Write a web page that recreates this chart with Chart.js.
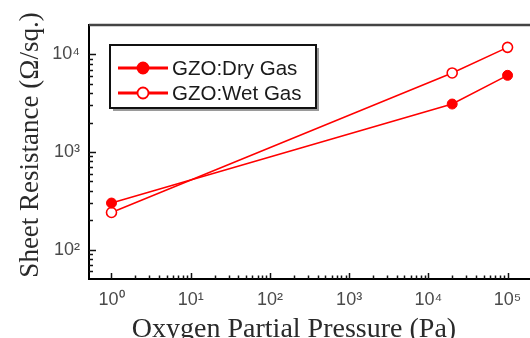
<!DOCTYPE html>
<html>
<head>
<meta charset="utf-8">
<script src="https://cdn.jsdelivr.net/npm/chart.js@4.4.1/dist/chart.umd.min.js"></script>
<style>
  html, body { margin: 0; padding: 0; background: #fff; overflow: hidden; }
  #wrap { position: absolute; left: 0; top: 0; width: 538px; height: 338px; }
</style>
</head>
<body>
<div id="wrap"><canvas id="chart" width="538" height="338"></canvas></div>
<script>
// data
const pressures = [1, 20000, 100000];
const dryGas = [300, 3100, 6100];
const wetGas = [240, 6450, 11800];

const seriesLabels = ['GZO:Dry Gas', 'GZO:Wet Gas'];
const xMajorTicks = [1, 10, 100, 1000, 10000, 100000];
const yMajorTicks = [100, 1000, 10000];
const minorSteps = [2, 3, 4, 5, 6, 7, 8, 9];
const supers = ['⁰', '¹', '²', '³', '⁴', '⁵'];

const xTitle = 'Oxygen Partial Pressure (Pa)';
const yTitle = 'Sheet Resistance (Ω/sq.)';

function minorsFor(decadeStarts, lo, hi) {
    const out = [];
    decadeStarts.forEach(d => minorSteps.forEach(s => {
        const v = d * s;
        if (v > lo && v < hi) out.push(v);
    }));
    return out;
}
const xMinorTicks = minorsFor([1, 10, 100, 1000, 10000], 1, 100000);
const yMinorTicks = minorsFor([10, 100, 1000], 55, 10000);

function powLabel(v) {
    const e = Math.round(Math.log10(v));
    return '10' + supers[e];
}

// inward ticks, frame, axis titles and legend
const decorPlugin = {
    id: 'decor',
    afterDraw(chart) {
        const ctx = chart.ctx;
        const area = chart.chartArea;
        const xs = chart.scales.x, ys = chart.scales.y;
        ctx.save();

        // top frame line
        ctx.strokeStyle = '#444';
        ctx.lineWidth = 2.5;
        ctx.beginPath();
        ctx.moveTo(area.left, area.top);
        ctx.lineTo(chart.width, area.top);
        ctx.stroke();

        // ticks pointing inward
        ctx.strokeStyle = '#111';
        ctx.lineWidth = 1.5;
        const xTick = (v, len) => {
            const p = Math.round(xs.getPixelForValue(v)) + 0.5;
            ctx.beginPath();
            ctx.moveTo(p, area.bottom);
            ctx.lineTo(p, area.bottom - len);
            ctx.stroke();
        };
        const yTick = (v, len) => {
            const p = Math.round(ys.getPixelForValue(v)) + 0.5;
            ctx.beginPath();
            ctx.moveTo(area.left, p);
            ctx.lineTo(area.left + len, p);
            ctx.stroke();
        };
        xMajorTicks.forEach(v => xTick(v, 6));
        xMinorTicks.forEach(v => xTick(v, 3.5));
        yMajorTicks.forEach(v => yTick(v, 7));
        yMinorTicks.forEach(v => yTick(v, 4));

        // axis titles
        ctx.fillStyle = '#2a2a2a';
        ctx.textAlign = 'center';
        ctx.textBaseline = 'alphabetic';
        ctx.font = '28px "Liberation Serif", "Times New Roman", serif';
        ctx.fillText(xTitle, 294, 337);
        ctx.save();
        ctx.translate(38, 145);
        ctx.rotate(-Math.PI / 2);
        ctx.font = '27px "Liberation Serif", "Times New Roman", serif';
        ctx.fillText(yTitle, 0, 0);
        ctx.restore();

        // legend box
        const bx = 110, by = 45, bw = 206, bh = 63;
        ctx.fillStyle = '#9a9a9a';
        ctx.fillRect(bx + 3, by + 3, bw, bh);
        ctx.fillStyle = '#fff';
        ctx.fillRect(bx, by, bw, bh);
        ctx.strokeStyle = '#111';
        ctx.lineWidth = 2;
        ctx.strokeRect(bx, by, bw, bh);

        chart.data.datasets.forEach((ds, i) => {
            const ry = 68 + i * 25;
            ctx.strokeStyle = ds.borderColor;
            ctx.lineWidth = 3;
            ctx.beginPath();
            ctx.moveTo(118, ry);
            ctx.lineTo(168, ry);
            ctx.stroke();
            ctx.beginPath();
            ctx.arc(143, ry, 5.5, 0, Math.PI * 2);
            ctx.fillStyle = ds.pointBackgroundColor;
            ctx.fill();
            ctx.lineWidth = 1.8;
            ctx.strokeStyle = ds.pointBorderColor;
            ctx.stroke();
            ctx.fillStyle = '#1a1a1a';
            ctx.textAlign = 'left';
            ctx.textBaseline = 'middle';
            ctx.font = '20.5px "Liberation Sans", Arial, sans-serif';
            ctx.fillText(ds.label, 172, ry + 1);
        });

        ctx.restore();
    }
};

const tickFont = { family: '"Liberation Sans", Arial, sans-serif', size: 18 };

new Chart(document.getElementById('chart'), {
    type: 'line',
    data: {
        datasets: [
            {
                label: seriesLabels[0],
                data: pressures.map((p, i) => ({ x: p, y: dryGas[i] })),
                borderColor: '#ff0000',
                borderWidth: 1.5,
                pointStyle: 'circle',
                pointRadius: 5,
                pointBackgroundColor: '#ff0000',
                pointBorderColor: '#ff0000',
                pointBorderWidth: 1,
                tension: 0
            },
            {
                label: seriesLabels[1],
                data: pressures.map((p, i) => ({ x: p, y: wetGas[i] })),
                borderColor: '#ff0000',
                borderWidth: 1.5,
                pointStyle: 'circle',
                pointRadius: 5,
                pointBackgroundColor: '#ffffff',
                pointBorderColor: '#ff0000',
                pointBorderWidth: 1.6,
                tension: 0
            }
        ]
    },
    options: {
        responsive: false,
        animation: false,
        devicePixelRatio: 1,
        layout: { padding: { top: 25, right: 2, left: 0, bottom: 0 } },
        plugins: {
            legend: { display: false },
            tooltip: { enabled: false }
        },
        scales: {
            x: {
                type: 'logarithmic',
                min: 0.52,
                max: 200000,
                grid: { display: false, drawTicks: false },
                border: { display: true, color: '#000', width: 2 },
                afterBuildTicks: s => { s.ticks = xMajorTicks.map(v => ({ value: v })); },
                afterFit: s => { s.height = 59; },
                ticks: {
                    autoSkip: false,
                    maxRotation: 0,
                    padding: 10,
                    color: '#4a4a4a',
                    font: tickFont,
                    callback: v => powLabel(v)
                }
            },
            y: {
                type: 'logarithmic',
                min: 50,
                max: 20000,
                grid: { display: false, drawTicks: false },
                border: { display: true, color: '#000', width: 2 },
                afterBuildTicks: s => { s.ticks = yMajorTicks.map(v => ({ value: v })); },
                afterFit: s => { s.width = 89; },
                ticks: {
                    autoSkip: false,
                    padding: 9,
                    color: '#4a4a4a',
                    font: tickFont,
                    callback: v => powLabel(v)
                }
            }
        }
    },
    plugins: [decorPlugin]
});
</script>
</body>
</html>
